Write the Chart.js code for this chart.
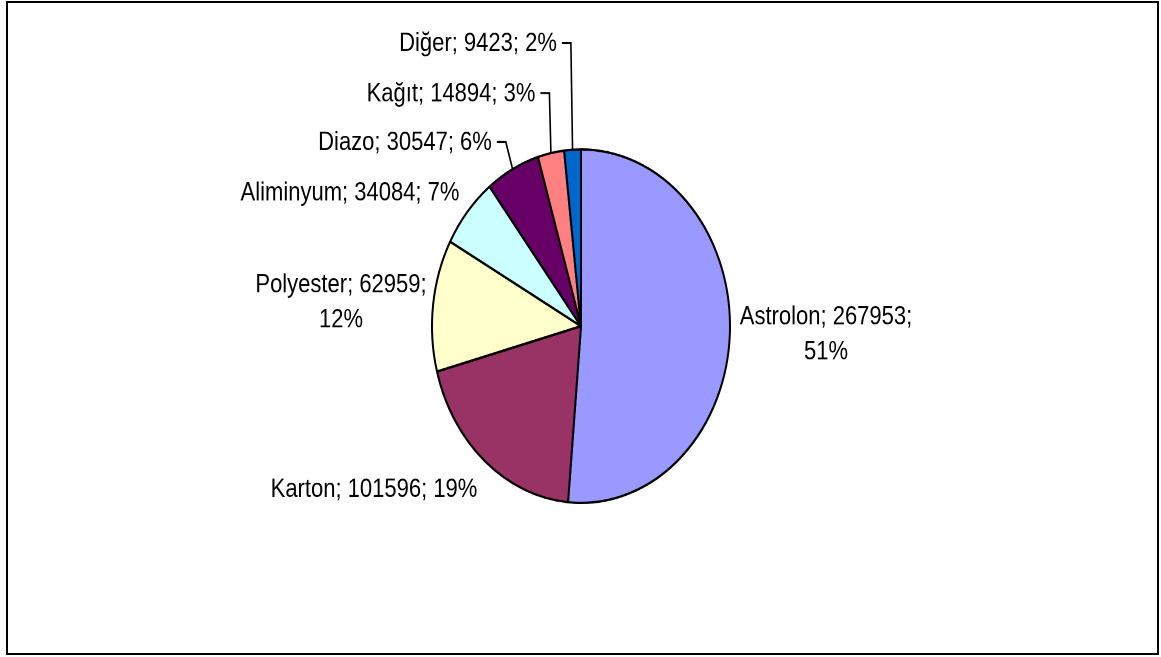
<!DOCTYPE html>
<html>
<head>
<meta charset="utf-8">
<script src="https://cdn.jsdelivr.net/npm/chart.js@4.4.1/dist/chart.umd.min.js"></script>
<style>
  html, body { margin: 0; padding: 0; background: #fff; }
  #frame {
    position: absolute; left: 6px; top: 1px; width: 1153px; height: 654px;
    box-sizing: border-box; border: 2px solid #000;
  }
  #wrap {
    position: absolute; left: 0; top: 0; width: 1161px; height: 554px;
    transform: scaleY(1.186); transform-origin: 0 0;
  }
</style>
</head>
<body>
<div id="frame"></div>
<div id="wrap"><canvas id="pie" width="1161" height="554"></canvas></div>
<script>
'use strict';

// ── Data ──────────────────────────────────────────────────
const categories = ['Astrolon', 'Karton', 'Polyester', 'Aliminyum', 'Diazo', 'Kağıt', 'Diğer'];
const values     = [267953, 101596, 62959, 34084, 30547, 14894, 9423];
const colors     = ['#9999FF', '#993366', '#FFFFCC', '#CCFFFF', '#660066', '#FF8080', '#0066CC'];

// ── Label layout (page coords, centre of text) ────────────
const K = 1.186; // vertical stretch of the original picture
const labelLayout = [
  { x: 826, y: 317, wrap: true,  leader: false },
  { x: 374, y: 490, wrap: false, leader: false },
  { x: 341, y: 285, wrap: true,  leader: false },
  { x: 350, y: 193, wrap: false, leader: false },
  { x: 405, y: 143, wrap: false, leader: true  },
  { x: 451, y: 94,  wrap: false, leader: true  },
  { x: 478, y: 44,  wrap: false, leader: true  }
];

const total = values.reduce((s, v) => s + v, 0);

function labelLines(i) {
  const pct = Math.round(values[i] / total * 100) + '%';
  const head = `${categories[i]}; ${values[i]};`;
  return labelLayout[i].wrap ? [head, pct] : [`${head} ${pct}`];
}

// ── Labels + leader lines plugin ──────────────────────────
const pieLabels = {
  id: 'pieLabels',
  afterDatasetsDraw(chart) {
    const ctx  = chart.ctx;
    const meta = chart.getDatasetMeta(0);
    ctx.save();
    ctx.font = '22px "Liberation Sans", Arial, sans-serif';
    ctx.fillStyle = '#000';
    ctx.textAlign = 'center';
    ctx.textBaseline = 'middle';
    labelLayout.forEach((lay, i) => {
      const lines = labelLines(i);
      const y0 = lay.y / K;
      lines.forEach((t, j) => ctx.fillText(t, lay.x, y0 + j * 35 / K));

      if (lay.leader) {
        const el  = meta.data[i];
        const mid = (el.startAngle + el.endAngle) / 2;
        const px  = el.x + Math.cos(mid) * el.outerRadius;
        const py  = el.y + Math.sin(mid) * el.outerRadius;
        const right = lay.x + ctx.measureText(lines[0]).width / 2;
        ctx.beginPath();
        ctx.lineWidth = 1.6;
        ctx.strokeStyle = '#000';
        ctx.moveTo(right + 5, y0 - 1 / K);
        ctx.lineTo(right + 14, y0 - 1 / K);
        ctx.lineTo(px, py);
        ctx.stroke();
      }
    });
    ctx.restore();
  }
};

// ── Chart ─────────────────────────────────────────────────
new Chart(document.getElementById('pie'), {
  type: 'pie',
  data: {
    labels: categories,
    datasets: [{
      data: values,
      backgroundColor: colors,
      borderColor: '#000',
      borderWidth: 2
    }]
  },
  options: {
    responsive: false,
    animation: false,
    devicePixelRatio: 2,
    radius: 149,
    layout: { padding: { left: 300, right: 299, top: 100, bottom: 104 } },
    plugins: {
      legend: { display: false },
      tooltip: { enabled: false }
    }
  },
  plugins: [pieLabels]
});
</script>
</body>
</html>
